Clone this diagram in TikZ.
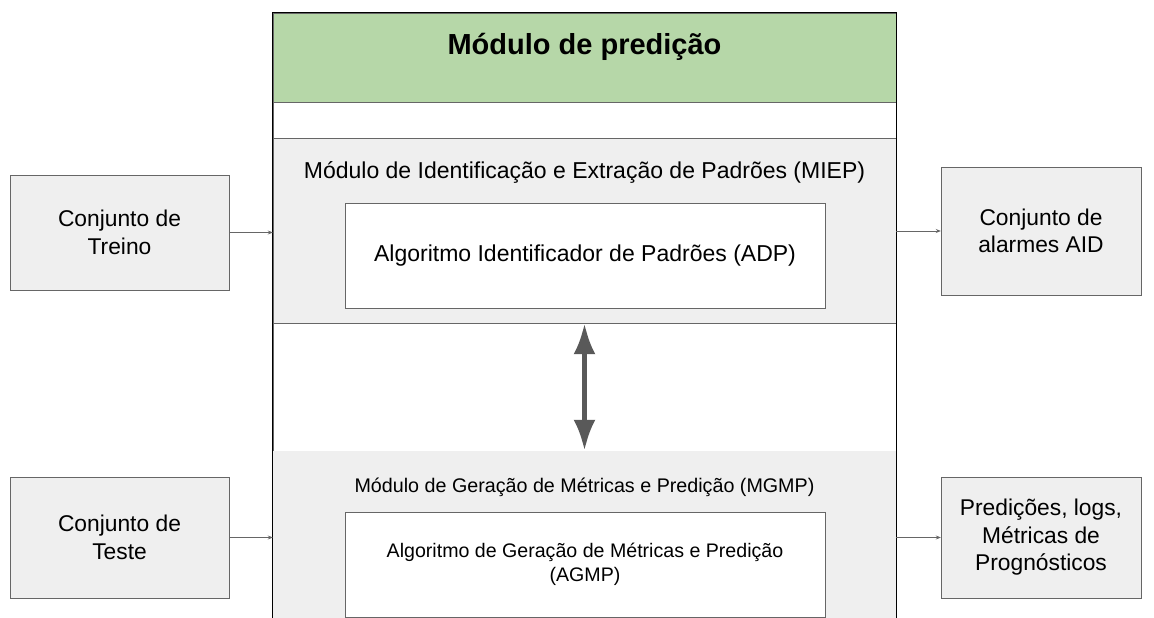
\documentclass[tikz,border=0pt]{standalone}
\usepackage{fontspec}
\setmainfont{Liberation Sans}
\usepackage{xcolor}
\usepackage{tikz}
\usetikzlibrary{positioning,arrows.meta}
\definecolor{headgreen}{HTML}{B6D7A8}
\definecolor{boxgrey}{HTML}{EFEFEF}
\definecolor{linegrey}{HTML}{666666}
\definecolor{arrowgrey}{HTML}{595959}
\tikzset{
    block/.style={
        rectangle,
        draw=linegrey,
        fill=boxgrey,
        align=center,
        inner sep=0pt,
        font=\fontsize{22.8}{27.5}\selectfont
    },
    algbox/.style={
        rectangle,
        draw=linegrey,
        fill=white,
        align=center,
        inner sep=0pt,
        minimum width=480pt,
        minimum height=105pt
    },
    section/.style={
        rectangle,
        draw=linegrey,
        inner sep=0pt,
        minimum width=623pt
    },
    arrow/.style={
        -{Stealth[length=5pt,width=4pt]},
        draw=linegrey,
        line width=0.7pt
    },
    bigarrow/.style={
        {Latex[length=31pt,width=22pt]}-{Latex[length=31pt,width=22pt]},
        draw=arrowgrey,
        fill=arrowgrey,
        line width=5pt
    }
}

\begin{document}
\begin{tikzpicture}[x=1pt,y=1pt]
            \useasboundingbox (0,0) rectangle (1154,618);
            \node (head) [section, fill=headgreen, minimum height=89pt] at (584.5,560.5) {};
            \node (strip) [section, fill=white, minimum height=36pt] at (584.5,498) {};
            \node (miep) [section, fill=boxgrey, minimum height=185pt] at (584.5,387.5) {};
            \node (gap) [section, fill=white, minimum height=128pt] at (584.5,231) {};
            \node (mgmp) [section, fill=boxgrey, draw=none, minimum height=177pt] at (584.5,78.5) {};
            \draw [black, line width=1pt] (mgmp.south west) -- (head.north west) -- (head.north east) -- (mgmp.south east);
            \node (title) [font=\bfseries\fontsize{29}{34}\selectfont] at (584.5,571) {Módulo de predição};
            \node (mieptitle) [font=\fontsize{23}{28}\selectfont] at (584.5,446) {Módulo de Identificação e Extração de Padrões (MIEP)};
            \node (adp) [algbox, font=\fontsize{23}{28}\selectfont] at (585,362.5) {Algoritmo Identificador de Padrões (ADP)};
            \node (mgmptitle) [font=\fontsize{19.7}{24}\selectfont] at (584.5,131) {Módulo de Geração de Métricas e Predição (MGMP)};
            \node (agmp) [algbox, font=\fontsize{19.6}{24}\selectfont] at (585,53.5) {Algoritmo de Geração de Métricas e Predição\\(AGMP)};
            \node (treino) [block, minimum width=219pt, minimum height=115pt] at (119.5,385.5) {Conjunto de\\Treino};
            \node (teste) [block, minimum width=219pt, minimum height=121pt] at (119.5,80.5) {Conjunto de\\Teste};
            \node (alarmes) [block, minimum width=200pt, minimum height=128pt] at (1041,387) {Conjunto de\\alarmes AID};
            \node (progn) [block, minimum width=200pt, minimum height=121pt] at (1041,80.5) {Predições, logs,\\Métricas de\\Prognósticos};
            \draw [arrow] (treino.east) -- (treino.east -| miep.west);
            \draw [arrow] (miep.east |- alarmes.west) -- (alarmes.west);
            \draw [arrow] (teste.east) -- (teste.east -| mgmp.west);
            \draw [arrow] (mgmp.east |- progn.west) -- (progn.west);
            \draw [bigarrow] (miep.south) -- (mgmp.north);
        \end{tikzpicture}
\end{document}
